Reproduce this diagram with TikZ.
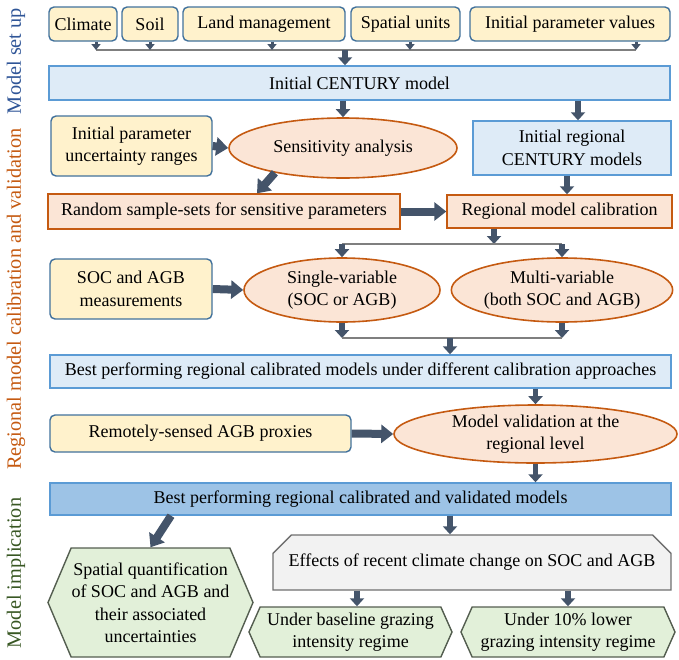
\documentclass[tikz,border=0pt]{standalone}
\usepackage{fontspec}
\setmainfont{Liberation Serif}
\usetikzlibrary{arrows.meta,shapes.geometric,shapes.misc,shapes.symbols}
\definecolor{inyellow}{HTML}{FFF2CC}
\definecolor{inblue}{HTML}{41719C}
\definecolor{mblue}{HTML}{DEEBF7}
\definecolor{mbluedraw}{HTML}{5B9BD5}
\definecolor{bestblue}{HTML}{9DC3E6}
\definecolor{orfill}{HTML}{FBE5D6}
\definecolor{ordraw}{HTML}{C55A11}
\definecolor{grfill}{HTML}{E2F0D9}
\definecolor{hexdraw}{HTML}{545E50}
\definecolor{effill}{HTML}{F2F2F2}
\definecolor{efdraw}{HTML}{6F6F6F}
\definecolor{arrcol}{HTML}{44546A}
\definecolor{buscol}{HTML}{7F7F7F}
\definecolor{setupcol}{HTML}{2F5597}
\definecolor{calcol}{HTML}{C55A11}
\definecolor{implcol}{HTML}{385723}

\begin{document}
\begin{tikzpicture}[x=1pt, y=-1pt,
  font=\fontsize{18}{22.5}\selectfont,
  inbox/.style={draw=inblue, fill=inyellow, rounded corners=5pt, line width=1.4pt, inner sep=0pt, align=center},
  modbox/.style={draw=mbluedraw, fill=mblue, line width=1.4pt, inner sep=0pt, align=center},
  calbox/.style={draw=ordraw, fill=orfill, line width=1.4pt, inner sep=0pt, align=center},
  calell/.style={ellipse, draw=ordraw, fill=orfill, line width=1.6pt, inner sep=0pt, align=center},
  hexbox/.style={signal, signal to=west and east, signal pointer angle=134, draw=hexdraw, fill=grfill, line width=1.4pt, inner sep=0pt, align=center},
  bus/.style={draw=buscol, line width=1.5pt},
  arrS/.style={draw=arrcol, line width=3pt, -{Triangle[width=9pt,length=6pt]}},
  arrV/.style={draw=arrcol, line width=5.5pt, -{Triangle[width=14pt,length=8pt]}},
  arrB/.style={draw=arrcol, line width=8pt, -{Triangle[width=18pt,length=12pt]}},
  side/.style={rotate=90, font=\fontsize{20.3}{24}\selectfont}]
\useasboundingbox (0,0) rectangle (679,659);

% side labels
\node[side, text=setupcol] (lsetup) at (16,61) {Model set up};
\node[side, text=calcol] (lcal) at (16,299) {Regional model calibration and validation};
\node[side, text=implcol] (limpl) at (16,573) {Model implication};

% model set up
\node[inbox, minimum width=68, minimum height=34] (climate) at (83,24) {Climate};
\node[inbox, minimum width=56, minimum height=34] (soil) at (150,24) {Soil};
\node[inbox, minimum width=162, minimum height=34] (land) at (264,24) {Land management};
\node[inbox, minimum width=109, minimum height=34] (spatial) at (405.5,24) {Spatial units};
\node[inbox, minimum width=200, minimum height=34] (initpar) at (570,24) {Initial parameter values};
\node[modbox, minimum width=621, minimum height=34] (century) at (359.5,83) {Initial CENTURY model};

\coordinate (b1) at (96,50);
\coordinate (b2) at (150,50);
\coordinate (b3) at (272,50);
\coordinate (b4) at (410,50);
\coordinate (b5) at (636,50);
\coordinate (b0) at (345,50);
\draw[bus] (b1) -- (b5);
\draw[arrS] (climate.south -| b1) -- (b1);
\draw[arrS] (soil.south -| b2) -- (b2);
\draw[arrS] (land.south -| b3) -- (b3);
\draw[arrS] (spatial.south -| b4) -- (b4);
\draw[arrS] (initpar.south -| b5) -- (b5);
\draw[arrV] (b0) -- (century.north -| b0);

% calibration
\node[inbox, minimum width=161, minimum height=60] (uncert) at (131.5,146) {Initial parameter\\uncertainty ranges};
\node[calell, minimum width=228, minimum height=60] (sens) at (343,148) {Sensitivity analysis};
\node[modbox, minimum width=198, minimum height=54] (regcent) at (572,148) {Initial regional\\CENTURY models};
\node[calbox, minimum width=352, minimum height=35] (random) at (224,211.5) {Random sample-sets for sensitive parameters};
\node[calbox, minimum width=225, minimum height=33] (regcal) at (559.5,211.5) {Regional model calibration};

\draw[arrV] (century.south -| sens.north) -- (sens.north);
\draw[arrV] (century.south -| 578,0) -- (regcent.north -| 578,0);
\draw[arrB] (uncert.east) -- (sens.west);
\draw[arrB] (sens.200) -- ([xshift=33pt]random.north);
\draw[arrB] (random.east) -- (regcal.west);
\draw[arrV] (regcent.south -| 567,0) -- (regcal.north -| 567,0);

\node[inbox, minimum width=162, minimum height=60] (socagb) at (131,289) {SOC and AGB\\measurements};
\node[calell, minimum width=196, minimum height=64] (single) at (342,290) {Single-variable\\(SOC or AGB)};
\node[calell, minimum width=197, minimum height=64] (multi) at (562,290) {Multi-variable\\(both SOC and AGB)};

\coordinate (c0) at (494,244);
\draw[arrV] (regcal.south -| c0) -- (c0);
\draw[bus] (single.north |- c0) -- (multi.north |- c0);
\draw[arrV] (single.north |- c0) -- (single.north);
\draw[arrV] (multi.north |- c0) -- (multi.north);
\draw[arrB] (socagb.east) -- (single.west);

\node[modbox, minimum width=621, minimum height=33] (bestcal) at (360.5,371.5) {Best performing regional calibrated models under different calibration approaches};

\coordinate (d0) at (450,338);
\draw[arrV] (single.south) -- (single.south |- d0);
\draw[arrV] (multi.south) -- (multi.south |- d0);
\draw[bus] (single.south |- d0) -- (multi.south |- d0);
\draw[arrV] (d0) -- (bestcal.north -| d0);

\node[inbox, minimum width=301, minimum height=37] (remote) at (200.5,433.5) {Remotely-sensed AGB proxies};
\node[calell, minimum width=283, minimum height=58] (valid) at (535.5,434) {Model validation at the\\regional level};
\draw[arrV] (bestcal.south -| valid.north) -- (valid.north);
\draw[arrB] (remote.east) -- (valid.west);

% implication
\node[modbox, fill=bestblue, minimum width=621, minimum height=32] (bestval) at (360.5,499) {Best performing regional calibrated and validated models};
\draw[arrV] (valid.south) -- (bestval.north -| valid.south);

\node[hexbox, minimum width=205, minimum height=109] (spatq) at (150.5,602.5) {Spatial quantification\\of SOC and AGB and\\their associated\\uncertainties};
\node[chamfered rectangle, chamfered rectangle corners={north west,north east}, chamfered rectangle xsep=13pt, chamfered rectangle ysep=10pt, draw=efdraw, fill=effill, line width=1.4pt, inner sep=0pt, minimum width=398, minimum height=55] (effects) at (472,562.5) {Effects of recent climate change on SOC and AGB};
\node[hexbox, signal pointer angle=132, minimum width=203, minimum height=50] (base) at (350.5,632) {Under baseline grazing\\intensity regime};
\node[hexbox, signal pointer angle=132, minimum width=214, minimum height=50] (lower) at (568,632) {Under 10\% lower\\grazing intensity regime};

\draw[arrB] (bestval.south -| 171,0) -- (spatq.north);
\draw[arrV] (bestval.south -| 450,0) -- (effects.north -| 450,0);
\draw[arrV] (effects.south -| 357,0) -- (base.north -| 357,0);
\draw[arrV] (effects.south -| lower.north) -- (lower.north);
\end{tikzpicture}
\end{document}
